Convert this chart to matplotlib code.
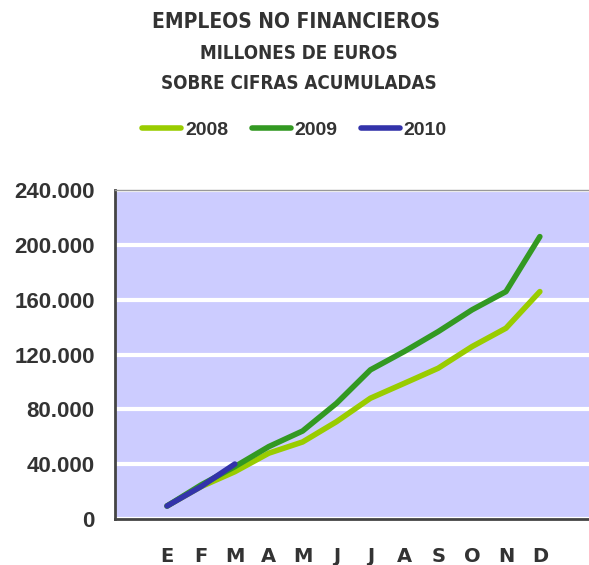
import matplotlib
matplotlib.use("Agg")

import matplotlib.pyplot as plt
from matplotlib.lines import Line2D

months = ["E", "F", "M", "A", "M", "J", "J", "A", "S", "O", "N", "D"]
serie_2008 = [9500, 23600, 34500, 48000, 56200, 71000, 88100, 99000, 110000, 125800, 139200, 165900]
serie_2009 = [9500, 24800, 38200, 52800, 64200, 84400, 108800, 122200, 136700, 152600, 165900, 206000]
serie_2010 = [9500, 23600, 40100]
yticks = [0, 40000, 80000, 120000, 160000, 200000, 240000]
ytick_labels = ["0", "40.000", "80.000", "120.000", "160.000", "200.000", "240.000"]

text_color = "#333333"
colors = {"2008": "#99CC00", "2009": "#339922", "2010": "#3333AA"}

fig = plt.figure(figsize=(5.89, 5.65), dpi=100)
ax = fig.add_axes([0.195, 0.0814, 0.805, 0.5823])
ax.set_facecolor("#CCCCFF")

x = list(range(len(months)))
ax.plot(x, serie_2008, color=colors["2008"], lw=4, solid_capstyle="round", solid_joinstyle="round", zorder=3)
ax.plot(x, serie_2009, color=colors["2009"], lw=4, solid_capstyle="round", solid_joinstyle="round", zorder=4)
ax.plot(x[:len(serie_2010)], serie_2010, color=colors["2010"], lw=4, solid_capstyle="round", solid_joinstyle="round", zorder=5)

ax.set_xlim(-1.54, 12.45)
ax.set_ylim(0, 240000)
ax.set_yticks(yticks)
ax.set_yticklabels(ytick_labels, fontsize=16, fontweight="bold", color=text_color, family="Liberation Sans")
ax.set_xticks(x)
ax.set_xticklabels(months, fontsize=14, fontweight="heavy", color=text_color, family="DejaVu Sans")
ax.tick_params(axis="both", length=0)
ax.tick_params(axis="y", pad=14.5)
ax.tick_params(axis="x", pad=20)
ax.grid(axis="y", color="white", lw=3)
ax.set_axisbelow(True)

for side in ["left", "bottom"]:
    ax.spines[side].set_color("#444444")
    ax.spines[side].set_linewidth(2)
ax.spines["top"].set_color("#999999")
ax.spines["top"].set_linewidth(1)
ax.spines["right"].set_visible(False)

title_font = {"family": "DejaVu Sans", "stretch": "condensed", "weight": "heavy", "color": text_color}
fig.text(0.503, 0.961, "EMPLEOS NO FINANCIEROS", ha="center", va="center", fontsize=15, **title_font)
fig.text(0.507, 0.906, "MILLONES DE EUROS", ha="center", va="center", fontsize=13.5, **title_font)
fig.text(0.507, 0.853, "SOBRE CIFRAS ACUMULADAS", ha="center", va="center", fontsize=13.5, **title_font)

handles = [Line2D([], [], color=colors[k], lw=4, solid_capstyle="round") for k in ["2008", "2009", "2010"]]
fig.legend(handles, ["2008", "2009", "2010"], loc="center", bbox_to_anchor=(0.5, 0.77), ncol=3,
           frameon=False, handlelength=2.0, handletextpad=0.2, columnspacing=1.2,
           prop={"family": "Liberation Sans", "weight": "bold", "size": 14}, labelcolor=text_color)

fig.savefig("out.png", dpi=100)
